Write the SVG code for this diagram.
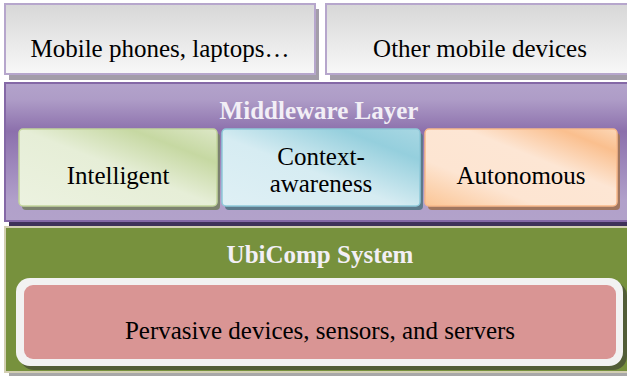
<svg xmlns="http://www.w3.org/2000/svg" width="627" height="377" viewBox="0 0 627 377">
<defs>
<linearGradient id="gTop" x1="0" y1="0" x2="0" y2="1"><stop offset="0" stop-color="#d7d7d7"/><stop offset="1" stop-color="#f8f8f8"/></linearGradient>
<linearGradient id="gMid" x1="0" y1="0" x2="0" y2="1"><stop offset="0" stop-color="#b3a3cb"/><stop offset="0.12" stop-color="#ae9cc7"/><stop offset="0.35" stop-color="#8c70ac"/><stop offset="0.6" stop-color="#9e88bc"/><stop offset="0.85" stop-color="#b1a0ca"/><stop offset="1" stop-color="#b2a2ca"/></linearGradient>
<linearGradient id="gGreen" x1="0" y1="1" x2="1" y2="0"><stop offset="0" stop-color="#ecf2e0"/><stop offset="0.5" stop-color="#e6eed7"/><stop offset="0.78" stop-color="#c6d8a2"/><stop offset="1" stop-color="#dce7c6"/></linearGradient>
<linearGradient id="gBlue" x1="0" y1="1" x2="1" y2="0"><stop offset="0" stop-color="#dff0f5"/><stop offset="0.45" stop-color="#d6ecf2"/><stop offset="0.8" stop-color="#95cfdd"/><stop offset="1" stop-color="#a8d7e3"/></linearGradient>
<linearGradient id="gOrange" x1="0" y1="1" x2="1" y2="0"><stop offset="0" stop-color="#fbc595"/><stop offset="0.3" stop-color="#fde5d2"/><stop offset="0.6" stop-color="#fde6d4"/><stop offset="0.85" stop-color="#fabf8e"/><stop offset="1" stop-color="#fcd7b6"/></linearGradient>
<style>
text{font-family:'Liberation Serif','DejaVu Serif',serif}
.t{font-size:25px;fill:#000;text-anchor:middle}
.h{font-size:25px;font-weight:bold;fill:#f2eff6;text-anchor:middle}
.top{fill:url(#gTop);stroke:#b6a6cc;stroke-width:2}
.sh{fill:#a39da9}
</style>
</defs>
<rect width="627" height="377" fill="#ffffff"/>
<g id="mobile-phones">
<rect class="sh" x="9" y="9" width="310" height="71"/>
<rect class="top" x="5" y="4" width="310" height="70"/>
<text class="t" x="160" y="57" font-family="Liberation Serif, serif">Mobile phones, laptops…</text>
</g>
<g id="other-mobile">
<rect class="sh" x="330" y="9" width="310" height="71"/>
<rect class="top" x="326" y="4" width="310" height="70"/>
<text class="t" x="480" y="57" font-family="Liberation Serif, serif">Other mobile devices</text>
</g>
<g id="middleware">
<rect x="9" y="88" width="630" height="138" fill="#3f3159"/>
<rect x="5" y="83" width="630" height="138" fill="url(#gMid)" stroke="#8468a6" stroke-width="2"/>
<text class="h" x="319" y="119" font-family="Liberation Serif, serif">Middleware Layer</text>
</g>
<g id="intelligent">
<rect x="22" y="133" width="198" height="77" rx="4" fill="#7c8270"/>
<rect x="19" y="129" width="198" height="77" rx="4" fill="url(#gGreen)" stroke="#c2d59c" stroke-width="1.5"/>
<text class="t" x="118" y="184" font-family="Liberation Serif, serif">Intelligent</text>
</g>
<g id="context-awareness">
<rect x="225" y="133" width="198" height="77" rx="4" fill="#5d7a8c"/>
<rect x="222" y="129" width="198" height="77" rx="4" fill="url(#gBlue)" stroke="#8ec9d9" stroke-width="1.5"/>
<text class="t" x="321" y="165" font-family="Liberation Serif, serif">Context-</text>
<text class="t" x="321" y="192" font-family="Liberation Serif, serif">awareness</text>
</g>
<g id="autonomous">
<rect x="428" y="133" width="192" height="77" rx="4" fill="#a07660"/>
<rect x="425" y="129" width="192" height="77" rx="4" fill="url(#gOrange)" stroke="#f8b98b" stroke-width="1.5"/>
<text class="t" x="521" y="184" font-family="Liberation Serif, serif">Autonomous</text>
</g>
<g id="ubicomp">
<rect x="9" y="231" width="630" height="145" fill="#a8a8a8"/>
<rect x="5" y="227" width="630" height="145" fill="#77913d" stroke="#d3cfb3" stroke-width="2"/>
<text class="h" x="320" y="263" font-family="Liberation Serif, serif">UbiComp System</text>
</g>
<g id="pervasive">
<rect x="20" y="282" width="607" height="88" rx="14" fill="#525d37"/>
<rect x="16" y="278" width="607" height="88" rx="14" fill="#f2f2f2"/>
<rect x="24" y="285" width="592" height="74" rx="9" fill="#d99594"/>
<text class="t" x="320" y="339" font-family="Liberation Serif, serif">Pervasive devices, sensors, and servers</text>
</g>
<g id="connectors"></g>
</svg>
